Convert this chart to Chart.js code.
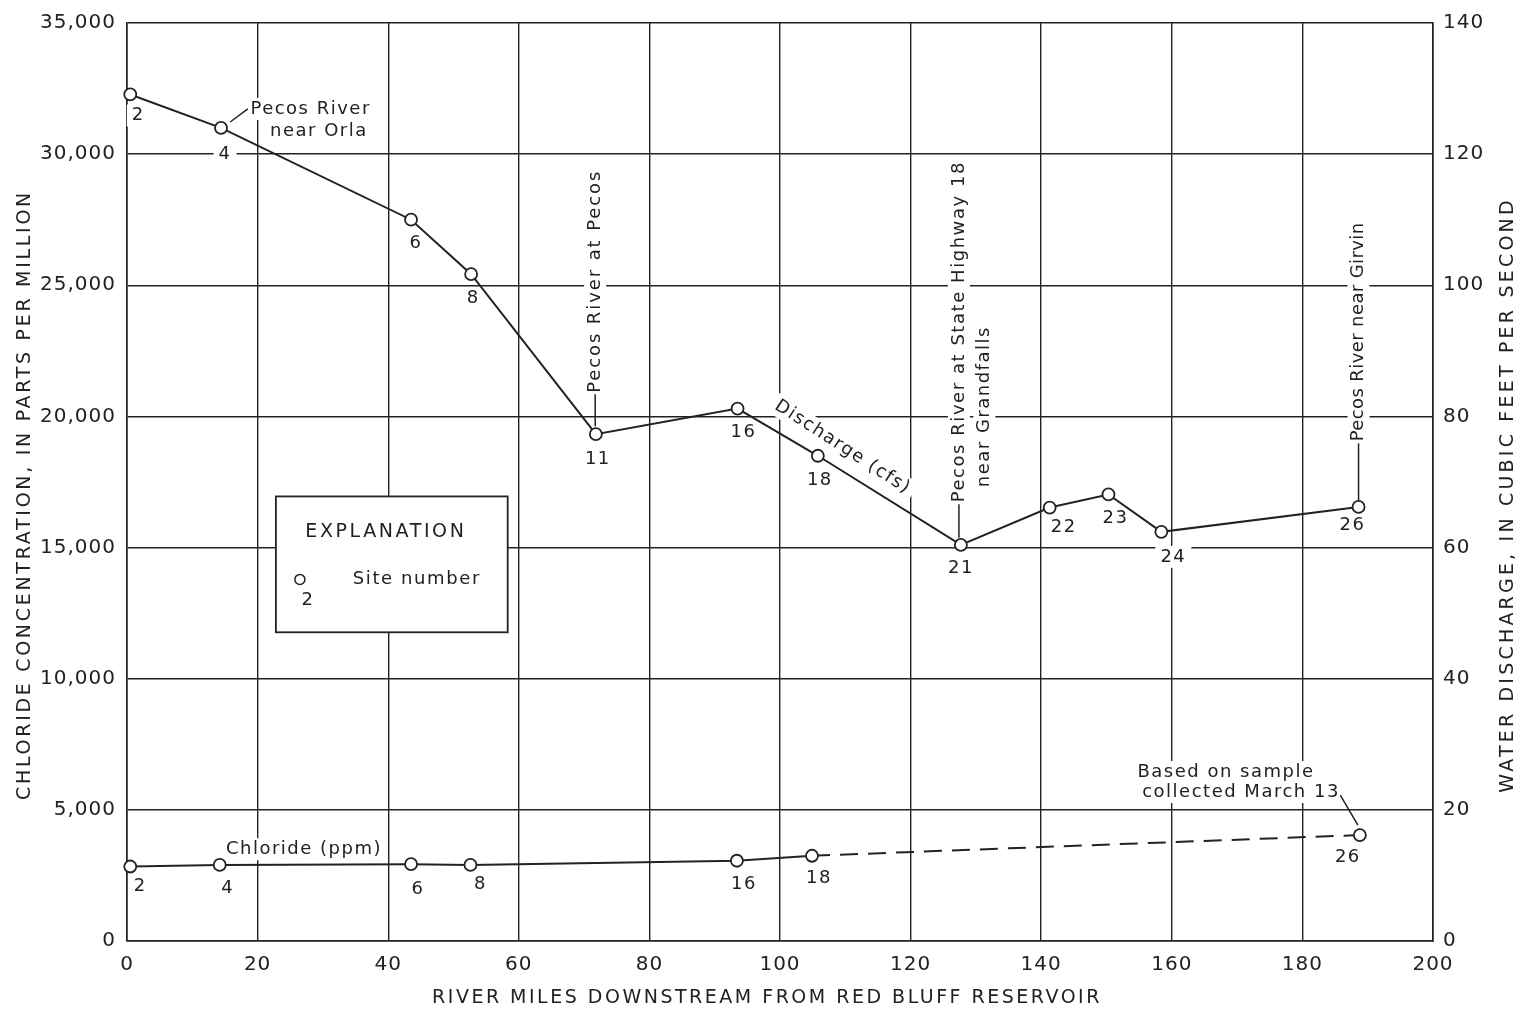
<!DOCTYPE html>
<html>
<head>
<meta charset="utf-8">
<script src="https://cdn.jsdelivr.net/npm/chart.js@4.4.1/dist/chart.umd.min.js"></script>
<style>
  html, body { margin: 0; padding: 0; background: #fff; }
  #wrap { width: 1523px; height: 1009px; }
</style>
</head>
<body>
<div id="wrap"><canvas id="pecosChart"></canvas></div>
<script>
// Discharge (cfs) along the river
const dischargeSites = [2, 4, 6, 8, 11, 16, 18, 21, 22, 23, 24, 26];
const dischargeMiles = [0.5, 14.4, 43.5, 52.7, 71.8, 93.5, 105.8, 127.7, 141.3, 150.3, 158.4, 188.6];
const dischargeCfs = [129.1, 124.0, 110.0, 101.7, 77.3, 81.2, 74.0, 60.4, 66.1, 68.1, 62.4, 66.2];

// Chloride (ppm); the last sample (site 26) was collected March 13
const chlorideSites = [2, 4, 6, 8, 16, 18, 26];
const chlorideMiles = [0.5, 14.2, 43.5, 52.6, 93.4, 104.9, 188.8];
const chloridePpm = [2840, 2900, 2930, 2900, 3060, 3250, 4040];

// axis ticks
const mileTicks = [0, 20, 40, 60, 80, 100, 120, 140, 160, 180, 200];
const ppmTicks = [0, 5000, 10000, 15000, 20000, 25000, 30000, 35000];
const cfsTicks = [0, 20, 40, 60, 80, 100, 120, 140];

const INK = '#222';
const FONT = "'DejaVu Sans', sans-serif";

// pixel offsets of the site number from its point
const dischargeLabelOffsets = [[8, 21], [4, 26], [5, 24], [2, 24], [2, 25], [6, 24], [2, 25], [0, 23], [14, 20], [7, 24], [12, 25], [-6, 18]];
const chlorideLabelOffsets = [[10, 20], [8, 23], [7, 25], [10, 19], [7, 24], [7, 23], [-12, 22]];

function drawNote(ctx, text, x, y, rotDeg, align, bg, size, spacing) {
    ctx.save();
    ctx.translate(x, y);
    ctx.rotate((rotDeg || 0) * Math.PI / 180);
    ctx.font = (size || 18) + 'px ' + FONT;
    ctx.letterSpacing = (spacing === undefined ? 1.5 : spacing) + 'px';
    ctx.textAlign = align || 'center';
    ctx.textBaseline = 'middle';
    const w = ctx.measureText(text).width;
    if (bg) {
        const x0 = align === 'left' ? 0 : align === 'right' ? -w : -w / 2;
        ctx.fillStyle = '#fff';
        ctx.fillRect(x0 - 5, -11, w + 10, 22);
    } else {
        ctx.fillStyle = INK;
        ctx.fillText(text, 0, 0);
    }
    ctx.restore();
}

function line(ctx, x1, y1, x2, y2) {
    ctx.save();
    ctx.strokeStyle = INK;
    ctx.lineWidth = 1.5;
    ctx.beginPath();
    ctx.moveTo(x1, y1);
    ctx.lineTo(x2, y2);
    ctx.stroke();
    ctx.restore();
}

const notesPlugin = {
    id: 'notes',
    beforeDraw(chart) {
        chart.ctx.letterSpacing = '1px';
    },
    beforeDatasetsDraw(chart) {
        const ctx = chart.ctx;
        const sx = chart.scales.x, sq = chart.scales.yQ, sc = chart.scales.yC;
        const X = v => sx.getPixelForValue(v);
        const Q = v => sq.getPixelForValue(v);
        const C = v => sc.getPixelForValue(v);

        // text notes: [text, x px, y px, rotation, align, letter spacing]
        const notes = [
            ['Pecos River', X(18.9), Q(126.9), 0, 'left'],
            ['near Orla', X(21.9), Q(123.5), 0, 'left'],
            ['Pecos River at Pecos', X(71.7), Q(83.6), -90, 'left', 1.9],
            ['Discharge (cfs)', X(109.6), Q(75.3), 33, 'center'],
            ['Pecos River at State Highway 18', X(127.4), Q(66.9), -90, 'left', 1.55],
            ['near Grandfalls', X(131.3), Q(69.2), -90, 'left'],
            ['Pecos River near Girvin', X(188.6), Q(76.2), -90, 'left', 0.4],
            ['Chloride (ppm)', X(27.1), C(3500), 0, 'center'],
            ['Based on sample', X(168.3), C(6440), 0, 'center'],
            ['collected March 13', X(170.6), C(5680), 0, 'center']
        ];
        dischargeSites.forEach((s, i) => {
            const o = dischargeLabelOffsets[i];
            notes.push([String(s), X(dischargeMiles[i]) + o[0], Q(dischargeCfs[i]) + o[1], 0, 'center']);
        });
        chlorideSites.forEach((s, i) => {
            const o = chlorideLabelOffsets[i];
            notes.push([String(s), X(chlorideMiles[i]) + o[0], C(chloridePpm[i]) + o[1], 0, 'center']);
        });

        notes.forEach(n => drawNote(ctx, n[0], n[1], n[2], n[3], n[4], true, 18, n[5]));
        notes.forEach(n => drawNote(ctx, n[0], n[1], n[2], n[3], n[4], false, 18, n[5]));

        // leader lines
        line(ctx, X(15.8), Q(124.9), X(18.5), Q(126.9));
        line(ctx, X(71.7), Q(83.4), X(71.7), Q(78.5));
        line(ctx, X(127.4), Q(66.6), X(127.4), Q(61.5));
        line(ctx, X(188.6), Q(75.9), X(188.6), Q(67.2));
        line(ctx, X(185.8), C(5560), X(188.5), C(4420));

        // explanation box
        const bx = X(22.8), by = C(16950), bw = X(58.3) - bx, bh = C(11770) - by;
        ctx.save();
        ctx.fillStyle = '#fff';
        ctx.fillRect(bx, by, bw, bh);
        ctx.strokeStyle = INK;
        ctx.lineWidth = 1.8;
        ctx.strokeRect(bx, by, bw, bh);
        ctx.lineWidth = 1.5;
        ctx.beginPath();
        ctx.arc(bx + 24, by + 83, 5, 0, Math.PI * 2);
        ctx.stroke();
        ctx.restore();
        drawNote(ctx, 'EXPLANATION', bx + 110, by + 36, 0, 'center', false, 19, 2.6);
        drawNote(ctx, 'Site number', bx + 141, by + 83, 0, 'center', false, 18, 1.6);
        drawNote(ctx, '2', bx + 32, by + 104, 0, 'center', false, 18, 1.5);
    },
    afterDraw(chart) {
        const ctx = chart.ctx;
        // [text, x, y, rotation, letter spacing]
        const titles = [
            ['CHLORIDE CONCENTRATION, IN PARTS PER MILLION', 25, 495, -90, 2.7],
            ['WATER DISCHARGE, IN CUBIC FEET PER SECOND', chart.width - 15, 495, -90, 3.2],
            ['RIVER MILES DOWNSTREAM FROM RED BLUFF RESERVOIR', 767, 998, 0, 2.5]
        ];
        titles.forEach(t => {
            ctx.save();
            ctx.translate(t[1], t[2]);
            ctx.rotate(t[3] * Math.PI / 180);
            ctx.font = '19px ' + FONT;
            ctx.letterSpacing = t[4] + 'px';
            ctx.fillStyle = INK;
            ctx.textAlign = 'center';
            ctx.textBaseline = 'middle';
            ctx.fillText(t[0], 0, 0);
            ctx.restore();
        });
    }
};

const tickFont = { family: FONT, size: 20 };

new Chart(document.getElementById('pecosChart'), {
    type: 'scatter',
    data: {
        datasets: [
            {
                label: 'Discharge (cfs)',
                data: dischargeMiles.map((m, i) => ({ x: m, y: dischargeCfs[i] })),
                yAxisID: 'yQ',
                showLine: true,
                clip: false,
                borderColor: INK,
                borderWidth: 2,
                pointRadius: 6,
                pointBorderWidth: 1.8,
                pointBackgroundColor: '#fff',
                pointBorderColor: INK
            },
            {
                label: 'Chloride (ppm)',
                data: chlorideMiles.map((m, i) => ({ x: m, y: chloridePpm[i] })),
                yAxisID: 'yC',
                showLine: true,
                clip: false,
                borderColor: INK,
                borderWidth: 2,
                pointRadius: 6,
                pointBorderWidth: 1.8,
                pointBackgroundColor: '#fff',
                pointBorderColor: INK,
                segment: {
                    borderDash: c => c.p0DataIndex >= chlorideMiles.length - 2 ? [18, 10] : undefined
                }
            }
        ]
    },
    options: {
        responsive: true,
        maintainAspectRatio: false,
        animation: false,
        layout: { padding: { top: 22, left: 0, right: 0, bottom: 0 } },
        plugins: { legend: { display: false }, tooltip: { enabled: false } },
        scales: {
            x: {
                type: 'linear', min: 0, max: 200,
                afterBuildTicks: s => { s.ticks = mileTicks.map(v => ({ value: v })); },
                ticks: { padding: 12, font: tickFont, color: INK, autoSkip: false, maxRotation: 0 },
                grid: { color: INK, lineWidth: 1.4, drawTicks: false },
                border: { color: INK, width: 1.6 },
                afterFit: s => { s.height = 68; }
            },
            yC: {
                position: 'left', min: 0, max: 35000,
                afterBuildTicks: s => { s.ticks = ppmTicks.map(v => ({ value: v })); },
                ticks: { padding: 11, font: tickFont, color: INK, autoSkip: false },
                grid: { color: INK, lineWidth: 1.4, drawTicks: false },
                border: { color: INK, width: 1.6 },
                afterFit: s => { s.width = 127; }
            },
            yQ: {
                position: 'right', min: 0, max: 140,
                afterBuildTicks: s => { s.ticks = cfsTicks.map(v => ({ value: v })); },
                ticks: { padding: 10, font: tickFont, color: INK, autoSkip: false },
                grid: { display: false, drawTicks: false },
                border: { color: INK, width: 1.6 },
                afterFit: s => { s.width = 90; }
            }
        }
    },
    plugins: [notesPlugin]
});
</script>
</body>
</html>
